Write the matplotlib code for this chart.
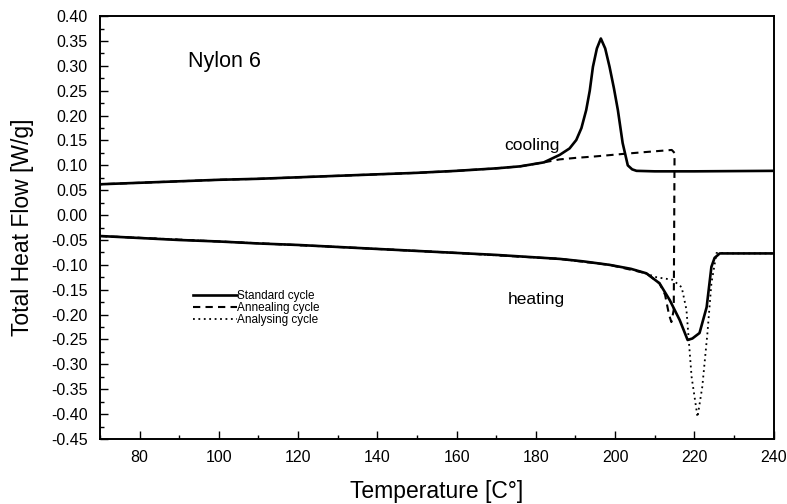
import matplotlib
matplotlib.use("Agg")
import matplotlib.pyplot as plt
import matplotlib.ticker as mticker

plt.rcParams['font.family'] = ['Liberation Sans', 'DejaVu Sans']

# standard cycle: heating run (lower branch) and cooling run (upper branch)
std_heat_T = [70, 80, 90, 100, 110, 120, 130, 140, 150, 160, 170, 180, 186, 192,
              198.6, 204, 207.9, 211.2, 213.8, 216.3, 218.3, 219.5, 221.3, 223.1,
              224.3, 225.1, 226.4, 230, 240]
std_heat_y = [-0.042, -0.046, -0.050, -0.053, -0.057, -0.060, -0.064, -0.068, -0.072,
              -0.076, -0.080, -0.085, -0.088, -0.093, -0.100, -0.108, -0.117, -0.137,
              -0.171, -0.211, -0.251, -0.248, -0.237, -0.185, -0.104, -0.086, -0.077,
              -0.077, -0.077]
std_cool_T = [240, 220, 210, 205.4, 204.3, 203.2, 201.9, 200.7, 199.7, 198.6, 197.5,
              196.4, 195.4, 194.4, 193.6, 192.7, 191.5, 190.2, 188.5, 186, 182, 176,
              170, 160, 150, 140, 130, 120, 110, 100, 90, 80, 70]
std_cool_y = [0.089, 0.088, 0.088, 0.089, 0.092, 0.100, 0.145, 0.211, 0.255, 0.298,
              0.335, 0.355, 0.335, 0.298, 0.250, 0.211, 0.175, 0.151, 0.134, 0.121,
              0.106, 0.098, 0.094, 0.089, 0.085, 0.082, 0.079, 0.076, 0.073, 0.071,
              0.068, 0.065, 0.062]

# annealing cycle: heat to ~215 C, then cool back down
ann_T = [70, 100, 130, 160, 186, 198.6, 207.9, 211.2, 212.6, 213.6, 214.2, 214.8,
         215.0, 214.3, 208, 202, 195, 190, 186, 182, 176, 170, 160, 150, 140, 130,
         120, 110, 100, 90, 80, 70]
ann_y = [-0.042, -0.053, -0.064, -0.076, -0.088, -0.100, -0.117, -0.137, -0.160,
         -0.200, -0.215, -0.190, 0.125, 0.131, 0.127, 0.123, 0.118, 0.115, 0.112,
         0.106, 0.098, 0.094, 0.089, 0.085, 0.082, 0.079, 0.076, 0.073, 0.071,
         0.068, 0.065, 0.062]

# analysing cycle (heating run)
ana_T = [70, 100, 130, 160, 186, 198.6, 205, 208, 210.5, 214.5, 216.8, 218, 219.3,
         220.8, 222, 223.3, 224.3, 225.6, 230, 240]
ana_y = [-0.042, -0.053, -0.064, -0.076, -0.088, -0.100, -0.110, -0.118, -0.125,
         -0.130, -0.145, -0.190, -0.325, -0.406, -0.345, -0.237, -0.137, -0.076,
         -0.077, -0.077]

fig = plt.figure(figsize=(7.87, 5.04), dpi=100)
ax = fig.add_axes([0.127, 0.129, 0.856, 0.839])

l1, = ax.plot(std_heat_T, std_heat_y, color='black', lw=1.9, solid_joinstyle='round')
ax.plot(std_cool_T, std_cool_y, color='black', lw=1.9, solid_joinstyle='round')
l2, = ax.plot(ann_T, ann_y, color='black', lw=1.5, ls=(0, (3.5, 2.5)))
l3, = ax.plot(ana_T, ana_y, color='black', lw=1.3, ls=(0, (1, 2)))

ax.set_xlim(70, 240)
ax.set_ylim(-0.45, 0.40)
ax.xaxis.set_major_locator(mticker.MultipleLocator(20))
ax.xaxis.set_minor_locator(mticker.MultipleLocator(10))
ax.yaxis.set_major_locator(mticker.MultipleLocator(0.05))
ax.yaxis.set_minor_locator(mticker.MultipleLocator(0.025))
ax.yaxis.set_major_formatter(mticker.FormatStrFormatter('%.2f'))
ax.tick_params(which='both', direction='in', top=False, right=False,
               labelsize=11.5, width=1.0)
ax.tick_params(which='major', length=6)
ax.tick_params(which='minor', length=3)
ax.tick_params(axis='x', pad=8)
ax.tick_params(axis='y', pad=9)
for sp in ax.spines.values():
    sp.set_linewidth(1.4)

ax.set_xlabel('Temperature [C°]', fontsize=16.5, labelpad=11)
ax.set_ylabel('Total Heat Flow [W/g]', fontsize=16.5, labelpad=12)

ax.text(92.2, 0.308, 'Nylon 6', fontsize=15.5, ha='left', va='center')
ax.text(179, 0.14, 'cooling', fontsize=12.5, ha='center', va='center')
ax.text(180, -0.17, 'heating', fontsize=12.5, ha='center', va='center')

ax.legend([l1, l2, l3], ['Standard cycle', 'Annealing cycle', 'Analysing cycle'],
          loc='upper left', bbox_to_anchor=(0.138, 0.352), frameon=False,
          fontsize=8.5, handlelength=3.7, handletextpad=0.0, labelspacing=0.0,
          borderpad=0, borderaxespad=0)

fig.savefig('out.png', dpi=100)
